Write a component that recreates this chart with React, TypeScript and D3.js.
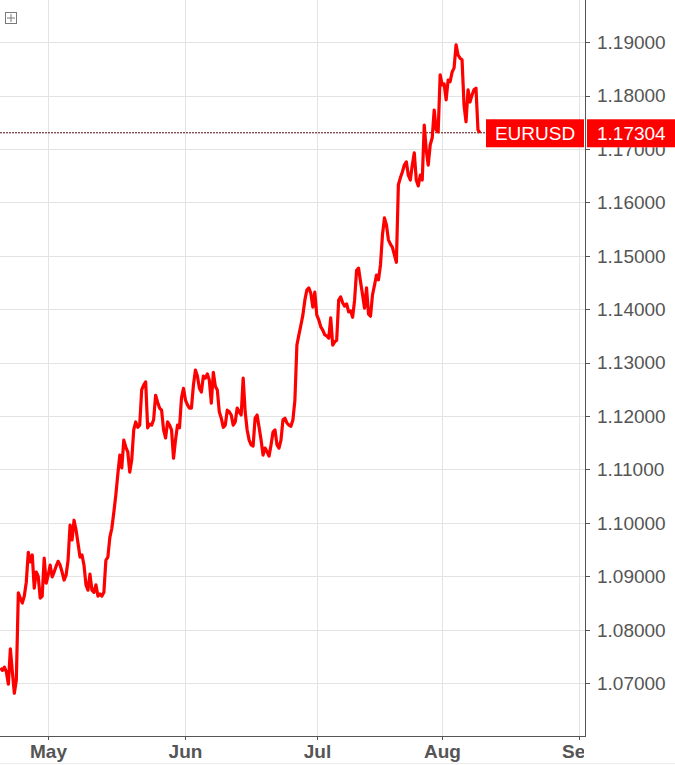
import React from "react";
import * as d3 from "d3";

// ---- data ----
const symbol = "EURUSD";
const lastPrice = 1.17304;
const seriesStart = "2017-04-19"; // first sample (trading day), 8-hour steps
const stepDays = 1 / 3;
const prices = [
  1.0728, 1.0724, 1.073, 1.0721, 1.0698, 1.0764, 1.0721, 1.0681, 1.0706, 1.0869,
  1.0859, 1.085, 1.0863, 1.0889, 1.0945, 1.0927, 1.094, 1.0878, 1.0908, 1.09,
  1.0859, 1.0863, 1.0934, 1.0887, 1.0902, 1.0921, 1.0899, 1.0908, 1.0919, 1.0928,
  1.0921, 1.0908, 1.0893, 1.0902, 1.093, 1.0996, 1.0968, 1.1005, 1.0987, 1.0962,
  1.0936, 1.094, 1.0921, 1.0884, 1.0874, 1.0904, 1.0874, 1.087, 1.0884, 1.0863,
  1.0867, 1.0863, 1.087, 1.093, 1.0936, 1.0973, 1.099, 1.102, 1.1052, 1.1091,
  1.1127, 1.1103, 1.1155, 1.1142, 1.1133, 1.1095, 1.1118, 1.1174, 1.1189, 1.1179,
  1.1183, 1.1249, 1.1258, 1.1264, 1.1178, 1.1185, 1.1183, 1.1193, 1.1239, 1.1226,
  1.1215, 1.1211, 1.1174, 1.1159, 1.1189, 1.1183, 1.1174, 1.1121, 1.1155, 1.1183,
  1.1178, 1.1234, 1.1252, 1.123, 1.1221, 1.1215, 1.1215, 1.1258, 1.1286, 1.1275,
  1.1252, 1.1245, 1.1275, 1.1271, 1.1279, 1.1267, 1.1224, 1.1282, 1.1256, 1.1249,
  1.1208, 1.1196, 1.1179, 1.1183, 1.1211, 1.1208, 1.1202, 1.1183, 1.1189, 1.1215,
  1.1208, 1.1202, 1.1271, 1.1208, 1.1174, 1.1155, 1.1146, 1.1144, 1.1196, 1.1202,
  1.1179, 1.1155, 1.1127, 1.114, 1.1133, 1.1125, 1.1146, 1.117, 1.1174, 1.1146,
  1.114, 1.1155, 1.1193, 1.1196, 1.1187, 1.1183, 1.1181, 1.1193, 1.123, 1.1333,
  1.1352, 1.137, 1.1389, 1.1417, 1.1436, 1.144, 1.143, 1.1404, 1.1432, 1.1389,
  1.138, 1.1367, 1.1361, 1.1352, 1.135, 1.1346, 1.1384, 1.1333, 1.1339, 1.1342,
  1.1417, 1.1423, 1.1412, 1.1406, 1.141, 1.1395, 1.1397, 1.1385, 1.1417, 1.1473,
  1.1477, 1.1451, 1.1427, 1.1402, 1.144, 1.1391, 1.1387, 1.1427, 1.1445, 1.1464,
  1.1455, 1.1483, 1.1539, 1.1571, 1.1558, 1.153, 1.1522, 1.1516, 1.1502, 1.1488,
  1.1633, 1.1646, 1.1657, 1.167, 1.1676, 1.1651, 1.1642, 1.167, 1.1693, 1.1642,
  1.1631, 1.1651, 1.1642, 1.1745, 1.1698, 1.167, 1.1708, 1.1721, 1.1773, 1.1736,
  1.1732, 1.1839, 1.182, 1.1822, 1.1792, 1.1829, 1.1826, 1.1844, 1.1852, 1.1895,
  1.1876, 1.187, 1.1867, 1.1782, 1.1751, 1.1811, 1.1788, 1.1801, 1.1811, 1.1814,
  1.1736, 1.17304,
];
const yTicks = [1.07, 1.08, 1.09, 1.1, 1.11, 1.12, 1.13, 1.14, 1.15, 1.16, 1.17, 1.18, 1.19];
const monthLabels = ["May", "Jun", "Jul", "Aug", "Sep"];
const monthDates = ["2017-05-01", "2017-06-01", "2017-07-01", "2017-08-01", "2017-09-01"];
const domainStart = "2017-04-19";
const domainEnd = "2017-09-01";

// trading-day index relative to 2017-05-01 (weekends removed)
const origin = new Date("2017-05-01T00:00:00Z");
function tradingIndex(s: string): number {
  const d = new Date(s + "T00:00:00Z");
  const sign = d >= origin ? 1 : -1;
  const [a, b] = sign > 0 ? [origin, d] : [d, origin];
  let n = 0;
  for (let t = new Date(a); t < b; t.setUTCDate(t.getUTCDate() + 1)) {
    const w = t.getUTCDay();
    if (w !== 0 && w !== 6) n++;
  }
  return sign * n;
}

const W = 675;
const H = 765;
const plotR = 585;
const plotB = 736;

export default function App() {
  const t0 = tradingIndex(seriesStart);
  const x = d3
    .scaleLinear()
    .domain([tradingIndex(domainStart) - 0.07, tradingIndex(domainEnd) + 0.93])
    .range([0, plotR]);
  const y = d3.scaleLinear().domain([1.0601, 1.1979]).range([plotB, 0]);
  const pts = prices.map((p, i) => [t0 + i * stepDays, p] as [number, number]);
  const line = d3
    .line<[number, number]>()
    .x((d) => x(d[0]))
    .y((d) => y(d[1]));
  const fmt = d3.format(".5f");
  const font = "'Liberation Sans', Arial, sans-serif";
  const yLast = y(lastPrice);
  const xEnd = x(pts[pts.length - 1][0]);
  const boxL = Math.max(486, xEnd + 5);

  return (
    <svg
      width={W}
      height={H}
      style={{ position: "absolute", left: 0, top: 0, background: "#fff" }}
    >
      <defs>
        <clipPath id="plotClip">
          <rect x={0} y={0} width={plotR} height={plotB} />
        </clipPath>
        <clipPath id="xlabClip">
          <rect x={0} y={plotB} width={plotR - 1} height={H - plotB} />
        </clipPath>
      </defs>
      {/* grid */}
      {yTicks.map((v) => (
        <line key={"g" + v} x1={0} x2={plotR} y1={Math.round(y(v)) + 0.5} y2={Math.round(y(v)) + 0.5} stroke="#e3e3e3" />
      ))}
      {monthDates.map((m) => {
        const xx = Math.round(x(tradingIndex(m))) + 0.5;
        return <line key={"v" + m} x1={xx} x2={xx} y1={0} y2={plotB} stroke="#e3e3e3" />;
      })}
      {/* icon */}
      <rect x={5.5} y={12.5} width={11} height={11} fill="none" stroke="#7a7a7a" />
      <line x1={11} x2={11} y1={14} y2={22} stroke="#7a7a7a" />
      <line x1={7} x2={15} y1={18} y2={18} stroke="#7a7a7a" />
      {/* last price dotted line */}
      <line x1={0} x2={486} y1={yLast} y2={yLast} stroke="#5a1010" strokeDasharray="2,1" strokeWidth={1} />
      {/* series */}
      <g clipPath="url(#plotClip)">
        <path d={line(pts) || ""} fill="none" stroke="#ff0000" strokeWidth={3.2} strokeLinejoin="round" />
      </g>
      {/* axes */}
      <line x1={0} x2={plotR + 1} y1={plotB + 0.5} y2={plotB + 0.5} stroke="#555" />
      <line x1={plotR + 0.5} x2={plotR + 0.5} y1={0} y2={plotB + 1} stroke="#555" />
      <line x1={0} x2={W} y1={H - 1.5} y2={H - 1.5} stroke="#ececec" />
      {yTicks.map((v) => (
        <g key={"t" + v}>
          <line x1={plotR} x2={plotR + 5} y1={Math.round(y(v)) + 0.5} y2={Math.round(y(v)) + 0.5} stroke="#555" />
          {v === 1.17 ? null : (
            <text x={597} y={y(v)} dy="0.36em" fontFamily={font} fontSize={19} fill="#555">
              {fmt(v)}
            </text>
          )}
        </g>
      ))}
      {monthDates.map((m, i) => {
        const xx = Math.round(x(tradingIndex(m))) + 0.5;
        return (
          <g key={"m" + m}>
            <line x1={xx} x2={xx} y1={plotB} y2={plotB + 4} stroke="#555" />
            <text
              x={xx}
              y={758}
              textAnchor="middle"
              fontFamily={font}
              fontWeight="bold"
              fontSize={19}
              fill="#555"
              clipPath="url(#xlabClip)"
            >
              {monthLabels[i]}
            </text>
          </g>
        );
      })}
      {/* 1.17000 label, partly hidden under the price box: show only the visible lower part */}
      <clipPath id="hidClip">
        <rect x={plotR + 2} y={yLast + 14.5} width={W - plotR} height={20} />
      </clipPath>
      <text x={597} y={y(1.17)} dy="0.36em" fontFamily={font} fontSize={19} fill="#555" clipPath="url(#hidClip)">
        {fmt(1.17)}
      </text>
      {/* last price labels */}
      <rect x={boxL} y={yLast - 13.5} width={plotR - 1 - boxL} height={28} fill="#ff0000" />
      <text x={(boxL + plotR - 1) / 2} y={yLast} dy="0.36em" textAnchor="middle" fontFamily={font} fontSize={19} fill="#fff">
        {symbol}
      </text>
      <rect x={plotR + 2} y={yLast - 13.5} width={W - plotR - 2} height={28} fill="#ff0000" />
      <text x={597} y={yLast} dy="0.36em" fontFamily={font} fontSize={19} fill="#fff">
        {fmt(lastPrice)}
      </text>
    </svg>
  );
}
